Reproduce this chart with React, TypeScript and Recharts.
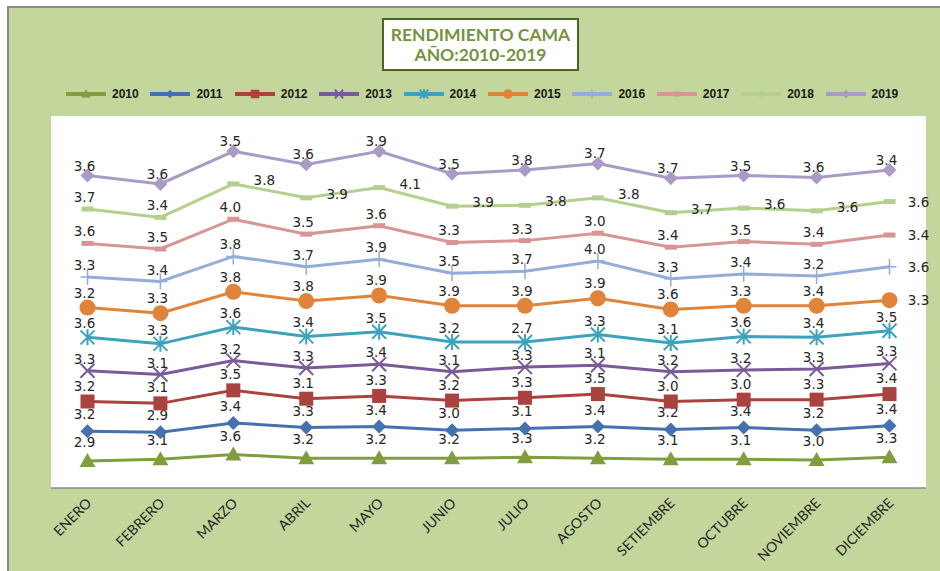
import { AreaChart, Area, XAxis, YAxis, CartesianGrid } from 'recharts';

const months = ['ENERO', 'FEBRERO', 'MARZO', 'ABRIL', 'MAYO', 'JUNIO', 'JULIO', 'AGOSTO', 'SETIEMBRE', 'OCTUBRE', 'NOVIEMBRE', 'DICIEMBRE'];
const years = ['2010', '2011', '2012', '2013', '2014', '2015', '2016', '2017', '2018', '2019'];

const v2010 = [2.9, 3.1, 3.6, 3.2, 3.2, 3.2, 3.3, 3.2, 3.1, 3.1, 3.0, 3.3];
const v2011 = [3.2, 2.9, 3.4, 3.3, 3.4, 3.0, 3.1, 3.4, 3.2, 3.4, 3.2, 3.4];
const v2012 = [3.2, 3.1, 3.5, 3.1, 3.3, 3.2, 3.3, 3.5, 3.0, 3.0, 3.3, 3.4];
const v2013 = [3.3, 3.1, 3.2, 3.3, 3.4, 3.1, 3.3, 3.1, 3.2, 3.2, 3.3, 3.3];
const v2014 = [3.6, 3.3, 3.6, 3.4, 3.5, 3.2, 2.7, 3.3, 3.1, 3.6, 3.4, 3.5];
const v2015 = [3.2, 3.3, 3.8, 3.8, 3.9, 3.9, 3.9, 3.9, 3.6, 3.3, 3.4, 3.3];
const v2016 = [3.3, 3.4, 3.8, 3.7, 3.9, 3.5, 3.7, 4.0, 3.3, 3.4, 3.2, 3.6];
const v2017 = [3.6, 3.5, 4.0, 3.5, 3.6, 3.3, 3.3, 3.0, 3.4, 3.5, 3.4, 3.4];
const v2018 = [3.7, 3.4, 3.8, 3.9, 4.1, 3.9, 3.8, 3.8, 3.7, 3.6, 3.6, 3.6];
const v2019 = [3.6, 3.6, 3.5, 3.6, 3.9, 3.5, 3.8, 3.7, 3.7, 3.5, 3.6, 3.4];

const seriesValues = [v2010, v2011, v2012, v2013, v2014, v2015, v2016, v2017, v2018, v2019];

const colors = ['#809E40', '#4571AF', '#AA423F', '#7B5A9A', '#3DA3BD', '#E0843A', '#93ADD8', '#D79593', '#B4CF8E', '#A99AC6'];
const shapes = ['triangle', 'diamond', 'square', 'x', 'star', 'circle', 'plus', 'dash', 'dash', 'diamond'];
const labelDy = [-19, -17, -16, -12, -14, -15, -12, -12, -4, -10];

const data = months.map((mes, i) => {
  const row: Record<string, string | number> = { mes };
  years.forEach((y, k) => {
    row[y] = seriesValues[k][i];
  });
  return row;
});

function Marker({ shape, x, y, color, s = 1 }: { shape: string; x: number; y: number; color: string; s?: number }) {
  switch (shape) {
    case 'triangle':
      return <polygon points={`${x},${y - 8 * s} ${x - 8 * s},${y + 6 * s} ${x + 8 * s},${y + 6 * s}`} fill={color} />;
    case 'diamond':
      return <polygon points={`${x},${y - 7 * s} ${x + 7 * s},${y} ${x},${y + 7 * s} ${x - 7 * s},${y}`} fill={color} />;
    case 'square':
      return <rect x={x - 7 * s} y={y - 7 * s} width={14 * s} height={14 * s} fill={color} />;
    case 'x':
      return <path d={`M${x - 7 * s},${y - 7 * s}L${x + 7 * s},${y + 7 * s}M${x + 7 * s},${y - 7 * s}L${x - 7 * s},${y + 7 * s}`} stroke={color} strokeWidth={2} />;
    case 'star':
      return <path d={`M${x - 7 * s},${y - 7 * s}L${x + 7 * s},${y + 7 * s}M${x + 7 * s},${y - 7 * s}L${x - 7 * s},${y + 7 * s}M${x},${y - 8 * s}L${x},${y + 8 * s}`} stroke={color} strokeWidth={2} />;
    case 'circle':
      return <circle cx={x} cy={y} r={8 * s} fill={color} />;
    case 'plus':
      return <path d={`M${x},${y - 8 * s}L${x},${y + 8 * s}M${x - 7 * s},${y}L${x + 7 * s},${y}`} stroke={color} strokeWidth={1.5} />;
    case 'dash':
      return <path d={`M${x - 6 * s},${y}L${x + 6 * s},${y}`} stroke={color} strokeWidth={5} />;
    default:
      return null;
  }
}

// marker + value label for each point
const makeDot = (k: number) => (props: any) => {
  const { cx, cy, index } = props;
  if (cx == null || cy == null) return <g key={`d-${k}-${index}`} />;
  let dx = -3;
  let dy = labelDy[k];
  if (k === 8 && index >= 2) dx = 31;
  if (k === 8 && index < 2) dy = -12;
  if (k >= 5 && k <= 8 && index === months.length - 1) {
    dx = 29;
    dy = 0;
  }
  return (
    <g key={`d-${k}-${index}`}>
      <Marker shape={shapes[k]} x={cx} y={cy} color={colors[k]} />
      <text
        x={cx + dx}
        y={cy + dy}
        textAnchor="middle"
        dominantBaseline="central"
        fontFamily="DejaVu Sans"
        fontSize={13.5}
        fill="#262626"
      >
        {seriesValues[k][index].toFixed(1)}
      </text>
    </g>
  );
};

const MonthTick = (props: any) => {
  const { x, y, payload } = props;
  const tx = x + 5;
  const ty = y + 8;
  return (
    <text x={tx} y={ty} transform={`rotate(-45 ${tx} ${ty})`} textAnchor="end" fontFamily="Lato" fontSize={14} fill="#262626">
      {payload.value}
    </text>
  );
};

function LegendRow() {
  return (
    <div style={{ position: 'absolute', left: 0, top: 86, width: 940, height: 16 }}>
      {years.map((y, k) => {
        const left = 66 + k * 84.4;
        return (
          <div key={y} style={{ position: 'absolute', left, top: 0, height: 16, display: 'flex', alignItems: 'center' }}>
            <svg width={42} height={16}>
              <line x1={0} y1={8} x2={40} y2={8} stroke={colors[k]} strokeWidth={4} />
              <Marker shape={shapes[k]} x={20} y={8} color={colors[k]} s={0.6} />
            </svg>
            <span style={{ marginLeft: 4, fontFamily: 'Liberation Sans', fontWeight: 700, fontSize: 12, color: '#1a1a1a' }}>{y}</span>
          </div>
        );
      })}
    </div>
  );
}

export default function App() {
  return (
    <div style={{ position: 'absolute', left: 0, top: 0, width: 940, height: 571, overflow: 'hidden', background: '#fff' }}>
      <div style={{ position: 'absolute', left: 7, top: 6, width: 940, height: 571, border: '2px solid #8a8a8a', background: '#C3D69B' }} />
      <div
        style={{
          position: 'absolute',
          left: 382,
          top: 18,
          width: 197,
          height: 53,
          boxSizing: 'border-box',
          border: '2px solid #4F6228',
          background: '#fff',
          display: 'flex',
          flexDirection: 'column',
          justifyContent: 'center',
          alignItems: 'center',
          fontFamily: 'Lato',
          fontWeight: 700,
          fontSize: 17.5,
          lineHeight: '20px',
          color: '#76923C',
        }}
      >
        <div>RENDIMIENTO CAMA</div>
        <div>AÑO:2010-2019</div>
      </div>
      <LegendRow />
      <div style={{ position: 'absolute', left: 0, top: 0 }}>
        <AreaChart width={940} height={571} data={data} margin={{ top: 116, right: 14, bottom: 0, left: 51 }}>
          <CartesianGrid fill="#ffffff" stroke="none" horizontal={false} vertical={false} />
          <XAxis
            dataKey="mes"
            height={83}
            tickLine={false}
            axisLine={{ stroke: '#8a8a8a', strokeWidth: 1.5 }}
            tick={<MonthTick />}
            interval={0}
            padding={{ left: 36.5, right: 36.5 }}
          />
          <YAxis hide domain={[0, 40]} />
          {years.map((y, k) => (
            <Area
              key={y}
              type="linear"
              dataKey={y}
              stackId="a"
              stroke={colors[k]}
              strokeWidth={3}
              fill="none"
              dot={makeDot(k)}
              activeDot={false}
              isAnimationActive={false}
            />
          ))}
        </AreaChart>
      </div>
    </div>
  );
}
